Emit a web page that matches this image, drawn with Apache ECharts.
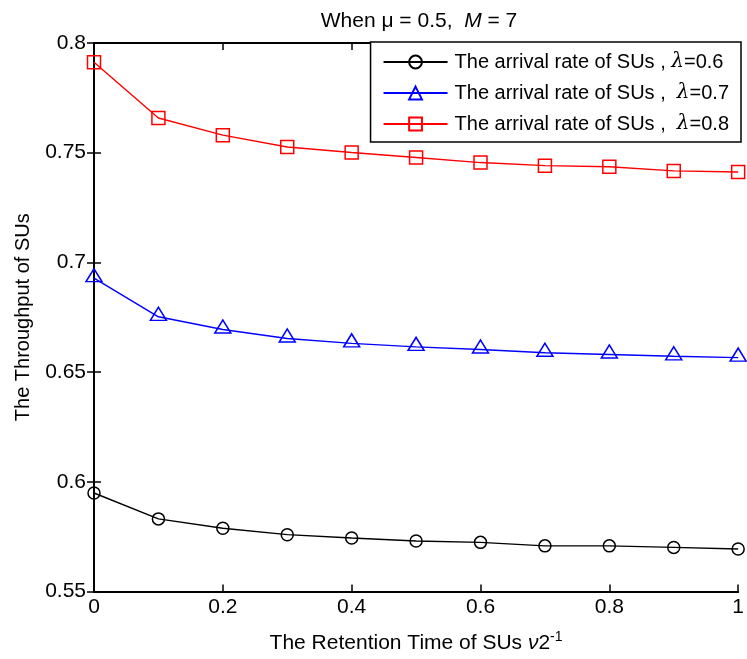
<!DOCTYPE html>
<html>
<head>
<meta charset="utf-8">
<script src="https://cdn.jsdelivr.net/npm/echarts@6/dist/echarts.min.js"></script>
<style>html,body{margin:0;padding:0;background:#fff}#c{width:747px;height:659px}</style>
</head>
<body>
<div id="c"></div>
<script>
var xValues = [0, 0.1, 0.2, 0.3, 0.4, 0.5, 0.6, 0.7, 0.8, 0.9, 1.0];
var lambda06 = [0.5949, 0.5831, 0.5788, 0.5759, 0.5744, 0.5730, 0.5724, 0.5708, 0.5708, 0.5701, 0.5694];
var lambda07 = [0.6928, 0.6752, 0.6694, 0.6653, 0.6631, 0.6615, 0.6603, 0.6588, 0.6580, 0.6572, 0.6566];
var lambda08 = [0.7912, 0.7658, 0.7580, 0.7526, 0.7501, 0.7478, 0.7455, 0.7441, 0.7436, 0.7417, 0.7412];
var seriesNames = ['λ=0.6', 'λ=0.7', 'λ=0.8'];
var legendTexts = {
  'λ=0.6': 'The arrival rate of SUs , {i|λ}=0.6',
  'λ=0.7': 'The arrival rate of SUs ,  {i|λ}=0.7',
  'λ=0.8': 'The arrival rate of SUs ,  {i|λ}=0.8'
};
var yTicks = [0.55, 0.6, 0.65, 0.7, 0.75, 0.8];
var xTicks = [0, 0.2, 0.4, 0.6, 0.8, 1];

function pairs(arr) { return xValues.map(function (x, i) { return [x, arr[i]]; }); }

var FONT = 'Liberation Sans, Arial, sans-serif';
var chart = echarts.init(document.getElementById('c'), null, {renderer: 'canvas'});

function mk(name, data, color, symbol, size, offset) {
  return {
    name: name, type: 'line', data: pairs(data),
    symbol: symbol, symbolSize: size, symbolOffset: offset || [0, 0],
    showAllSymbol: true,
    lineStyle: {color: color, width: 1.4},
    itemStyle: {color: 'rgba(0,0,0,0)', borderColor: color, borderWidth: 1.5},
    emphasis: {disabled: true},
    animation: false, z: 3
  };
}

var option = {
  animation: false,
  backgroundColor: '#fff',
  title: {
    text: 'When μ = 0.5,  {i|M} = 7',
    left: 414, top: 6, textAlign: 'center',
    textStyle: {fontFamily: FONT, fontSize: 21, fontWeight: 'normal', color: '#000',
      rich: {i: {fontStyle: 'italic', fontFamily: FONT, fontSize: 21, color: '#000'}}}
  },
  grid: {left: 94, right: 8, top: 43, bottom: 61, containLabel: false},
  legend: {
    orient: 'vertical', right: 6, top: 42,
    data: seriesNames,
    backgroundColor: '#fff', borderColor: '#000', borderWidth: 1.5,
    padding: [10, 12, 8, 12],
    itemWidth: 64, itemHeight: 16, itemGap: 11,
    formatter: function (n) { return legendTexts[n]; },
    textStyle: {fontFamily: FONT, fontSize: 20, color: '#000', padding: [0, 0, 0, 2],
      rich: {i: {fontStyle: 'italic', fontFamily: 'DejaVu Serif, serif', fontSize: 20, color: '#000'}}}
  },
  xAxis: [{
    type: 'value', min: 0, max: 1, interval: 0.2,
    name: 'The Retention Time of SUs {i|ν}2{s|-1}',
    nameLocation: 'middle', nameGap: 39,
    nameTextStyle: {fontFamily: FONT, fontSize: 21, color: '#000',
      rich: {i: {fontStyle: 'italic', fontFamily: FONT, fontSize: 21, color: '#000'},
             s: {fontSize: 14, fontFamily: FONT, color: '#000', verticalAlign: 'top', padding: [0, 0, 12, 0]}}},
    axisLine: {show: true, lineStyle: {color: '#000', width: 2}},
    axisTick: {show: true, inside: true, length: 7, lineStyle: {color: '#000', width: 1.5}},
    axisLabel: {fontFamily: FONT, fontSize: 21, color: '#000', margin: 5,
      formatter: function (v) { return String(Math.round(v * 10) / 10); }},
    splitLine: {show: false}
  }, {
    type: 'value', min: 0, max: 1, interval: 0.2, position: 'top',
    axisLine: {show: true, lineStyle: {color: '#000', width: 2}},
    axisTick: {show: true, inside: true, length: 7, lineStyle: {color: '#000', width: 1.5}},
    axisLabel: {show: false}, splitLine: {show: false}
  }],
  yAxis: [{
    type: 'value', min: 0.55, max: 0.8, interval: 0.05,
    name: 'The Throughput of SUs',
    nameLocation: 'middle', nameGap: 61, nameRotate: 90,
    nameTextStyle: {fontFamily: FONT, fontSize: 20, color: '#000'},
    axisLine: {show: true, lineStyle: {color: '#000', width: 2}},
    axisTick: {show: true, inside: true, length: 7, lineStyle: {color: '#000', width: 1.5}},
    axisLabel: {fontFamily: FONT, fontSize: 21, color: '#000', margin: 8,
      formatter: function (v) { return String(Math.round(v * 100) / 100); }},
    splitLine: {show: false}
  }, {
    type: 'value', min: 0.55, max: 0.8, interval: 0.05, position: 'right',
    axisLine: {show: true, lineStyle: {color: '#000', width: 2}},
    axisTick: {show: true, inside: true, length: 7, lineStyle: {color: '#000', width: 1.5}},
    axisLabel: {show: false}, splitLine: {show: false}
  }],
  series: [
    mk(seriesNames[0], lambda06, '#000000', 'circle', [12, 12]),
    mk(seriesNames[1], lambda07, '#0000ff', 'triangle', [16, 13], [0, -3]),
    mk(seriesNames[2], lambda08, '#ff0000', 'rect', 13)
  ]
};
chart.setOption(option);
</script>
</body>
</html>
